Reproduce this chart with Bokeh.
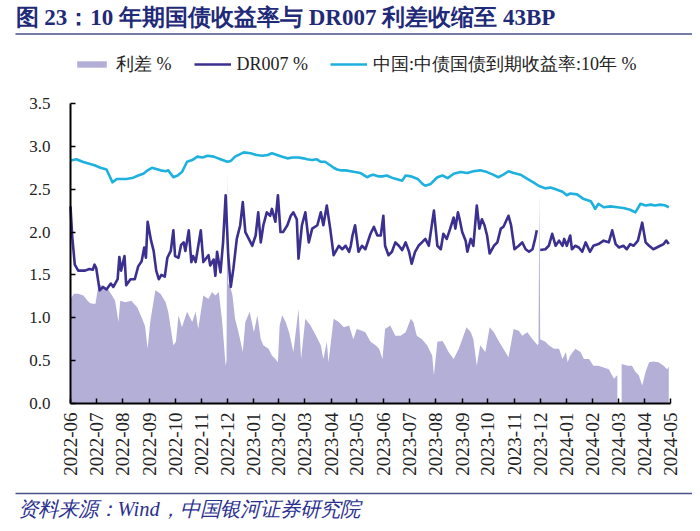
import numpy as np
import pandas as pd
from bokeh.plotting import figure
from bokeh.models import (ColumnDataSource, Range1d, FixedTicker, DatetimeTickFormatter,
                          Label, BoxAnnotation, Legend, LegendItem, PrintfTickFormatter)
from bokeh.embed import file_html
from bokeh.resources import INLINE

title_text = "图 23：10 年期国债收益率与 DR007 利差收缩至 43BP"
source_text = "资料来源：Wind，中国银河证券研究院"
series_names = ["利差 %", "DR007 %", "中国:中债国债到期收益率:10年 %"]
tick_labels = ["2022-06", "2022-07", "2022-08", "2022-09", "2022-10", "2022-11", "2022-12",
               "2023-01", "2023-02", "2023-03", "2023-04", "2023-05", "2023-06", "2023-07",
               "2023-08", "2023-09", "2023-10", "2023-11", "2023-12", "2024-01", "2024-02",
               "2024-03", "2024-04", "2024-05"]
y_ticks = [0.0, 0.5, 1.0, 1.5, 2.0, 2.5, 3.0, 3.5]

# DR007 %
dr_dates = ["2022-06-30", "2022-07-02", "2022-07-05", "2022-07-09", "2022-07-17", "2022-07-22",
            "2022-07-26", "2022-07-28", "2022-07-30", "2022-08-03", "2022-08-07", "2022-08-11",
            "2022-08-16", "2022-08-19", "2022-08-24", "2022-08-26", "2022-08-28", "2022-09-01",
            "2022-09-03", "2022-09-08", "2022-09-13", "2022-09-17", "2022-09-21", "2022-09-24",
            "2022-09-26", "2022-09-28", "2022-10-02", "2022-10-05", "2022-10-08", "2022-10-11",
            "2022-10-14", "2022-10-18", "2022-10-21", "2022-10-25", "2022-10-28", "2022-10-30",
            "2022-11-03", "2022-11-06", "2022-11-09", "2022-11-11", "2022-11-15", "2022-11-18",
            "2022-11-20", "2022-11-23", "2022-11-29", "2022-12-02", "2022-12-08", "2022-12-10",
            "2022-12-14", "2022-12-16", "2022-12-18", "2022-12-22", "2022-12-25", "2022-12-28",
            "2022-12-31", "2023-01-03", "2023-01-06", "2023-01-10", "2023-01-14", "2023-01-17",
            "2023-01-20", "2023-01-24", "2023-01-28", "2023-02-01", "2023-02-04", "2023-02-07",
            "2023-02-10", "2023-02-14", "2023-02-18", "2023-02-20", "2023-02-24", "2023-02-27",
            "2023-03-02", "2023-03-05", "2023-03-10", "2023-03-14", "2023-03-17", "2023-03-21",
            "2023-03-23", "2023-03-27", "2023-03-31", "2023-04-04", "2023-04-08", "2023-04-14",
            "2023-04-18", "2023-04-21", "2023-04-25", "2023-04-29", "2023-05-03", "2023-05-09",
            "2023-05-13", "2023-05-17", "2023-05-21", "2023-05-23", "2023-05-25", "2023-05-28",
            "2023-06-01", "2023-06-05", "2023-06-09", "2023-06-15", "2023-06-19", "2023-06-23",
            "2023-06-27", "2023-06-30", "2023-07-02", "2023-07-06", "2023-07-10", "2023-07-14",
            "2023-07-18", "2023-07-22", "2023-07-26", "2023-07-30", "2023-08-02", "2023-08-06",
            "2023-08-10", "2023-08-14", "2023-08-18", "2023-08-22", "2023-08-28", "2023-09-01",
            "2023-09-05", "2023-09-08", "2023-09-12", "2023-09-16", "2023-09-20", "2023-09-22",
            "2023-09-25", "2023-09-27", "2023-09-30", "2023-10-04", "2023-10-06", "2023-10-10",
            "2023-10-13", "2023-10-17", "2023-10-20", "2023-10-23", "2023-10-26", "2023-10-29",
            "2023-11-01", "2023-11-06", "2023-11-10", "2023-11-14", "2023-11-17", "2023-11-23",
            "2023-11-26", "2023-11-30", "2023-12-05", "2023-12-09", "2023-12-13", "2023-12-17",
            "2023-12-21", "2023-12-24", "2023-12-26", "2023-12-29", "2023-12-30", "2024-01-05",
            "2024-01-09", "2024-01-13", "2024-01-17", "2024-01-21", "2024-01-25", "2024-01-27",
            "2024-01-30", "2024-02-03", "2024-02-05", "2024-02-09", "2024-02-13", "2024-02-17",
            "2024-02-21", "2024-02-26", "2024-03-01", "2024-03-07", "2024-03-13", "2024-03-19",
            "2024-03-23", "2024-03-27", "2024-03-31", "2024-04-05", "2024-04-09", "2024-04-13",
            "2024-04-17", "2024-04-22", "2024-04-27", "2024-05-01", "2024-05-05", "2024-05-10",
            "2024-05-14", "2024-05-18", "2024-05-22", "2024-05-25", "2024-05-28"]
dr_vals = [2.30, 1.95, 1.62, 1.55, 1.55, 1.57,
           1.56, 1.62, 1.58, 1.32, 1.36, 1.33,
           1.40, 1.36, 1.45, 1.71, 1.55, 1.72,
           1.38, 1.45, 1.45, 1.60, 1.66, 1.82,
           1.70, 2.12, 1.90, 1.78, 1.55, 1.45,
           1.50, 1.48, 1.70, 1.78, 2.02, 1.72,
           1.70, 1.85, 1.88, 1.78, 2.02, 1.65,
           1.72, 1.65, 2.02, 1.65, 1.73, 1.61,
           1.68, 1.49, 1.77, 1.53, 1.88, 2.43,
           1.73, 1.36, 1.57, 1.92, 2.08, 2.35,
           2.00, 1.92, 1.84, 1.96, 2.23, 1.88,
           2.08, 2.23, 2.19, 2.27, 2.12, 2.43,
           2.00, 2.00, 2.08, 2.19, 2.23, 2.15,
           1.69, 2.08, 2.23, 1.88, 2.04, 2.08,
           2.23, 2.08, 2.31, 2.04, 1.73, 1.84,
           1.80, 1.84, 1.77, 1.84, 1.96, 2.08,
           1.77, 1.84, 1.80, 1.98, 2.06, 1.96,
           1.96, 2.19, 1.84, 1.73, 1.77, 1.88,
           1.84, 1.79, 1.88, 1.77, 1.63, 1.77,
           1.84, 1.88, 1.92, 1.84, 2.25, 1.84,
           1.80, 1.98, 1.92, 2.04, 2.17, 2.04,
           2.23, 2.15, 2.00, 1.90, 1.77, 1.92,
           1.84, 2.31, 2.04, 2.15, 2.08, 1.96,
           1.75, 1.84, 1.88, 2.04, 2.06, 2.19,
           2.08, 1.80, 1.84, 1.88, 1.80, 1.77,
           1.80, 1.92, 2.02, np.nan, 1.79, 1.80,
           1.84, 1.98, 1.84, 1.90, 1.84, 1.92,
           1.84, 1.96, 1.80, 1.84, 1.82, 1.77,
           1.88, 1.77, 1.84, 1.86, 1.90, 1.88,
           2.02, 1.86, 1.82, 1.84, 1.80, 1.86,
           1.84, 1.90, 2.11, 1.88, 1.84, 1.80,
           1.82, 1.84, 1.86, 1.90, 1.86]

# 中国:中债国债到期收益率:10年 %
cgb_dates = ["2022-06-30", "2022-07-07", "2022-07-14", "2022-07-21", "2022-07-28", "2022-08-04",
             "2022-08-11", "2022-08-18", "2022-08-23", "2022-08-27", "2022-09-03", "2022-09-10",
             "2022-09-17", "2022-09-23", "2022-09-28", "2022-10-03", "2022-10-07", "2022-10-13",
             "2022-10-19", "2022-10-22", "2022-10-28", "2022-11-02", "2022-11-07", "2022-11-13",
             "2022-11-19", "2022-11-25", "2022-12-01", "2022-12-07", "2022-12-14", "2022-12-22",
             "2022-12-30", "2023-01-03", "2023-01-08", "2023-01-14", "2023-01-18", "2023-01-26",
             "2023-02-02", "2023-02-09", "2023-02-15", "2023-02-20", "2023-02-26", "2023-03-04",
             "2023-03-10", "2023-03-16", "2023-03-23", "2023-03-29", "2023-04-02", "2023-04-08",
             "2023-04-13", "2023-04-18", "2023-04-23", "2023-04-29", "2023-05-03", "2023-05-07",
             "2023-05-11", "2023-05-17", "2023-05-23", "2023-05-28", "2023-06-03", "2023-06-11",
             "2023-06-15", "2023-06-18", "2023-06-24", "2023-06-29", "2023-07-04", "2023-07-11",
             "2023-07-15", "2023-07-22", "2023-07-26", "2023-08-01", "2023-08-04", "2023-08-09",
             "2023-08-15", "2023-08-18", "2023-08-24", "2023-08-27", "2023-09-01", "2023-09-07",
             "2023-09-13", "2023-09-20", "2023-09-28", "2023-10-06", "2023-10-13", "2023-10-21",
             "2023-10-29", "2023-11-05", "2023-11-11", "2023-11-17", "2023-11-23", "2023-11-29",
             "2023-12-07", "2023-12-15", "2023-12-22", "2023-12-28", "2024-01-05", "2024-01-11",
             "2024-01-17", "2024-01-25", "2024-01-30", "2024-02-03", "2024-02-11", "2024-02-18",
             "2024-02-27", "2024-03-01", "2024-03-03", "2024-03-07", "2024-03-13", "2024-03-21",
             "2024-03-29", "2024-04-05", "2024-04-13", "2024-04-19", "2024-04-25", "2024-05-01",
             "2024-05-07", "2024-05-12", "2024-05-18", "2024-05-24", "2024-05-28"]
cgb_vals = [2.835, 2.85, 2.82, 2.80, 2.78, 2.75,
            2.73, 2.58, 2.62, 2.62, 2.62, 2.63,
            2.66, 2.68, 2.72, 2.75, 2.74, 2.72,
            2.71, 2.72, 2.64, 2.66, 2.70, 2.82,
            2.84, 2.88, 2.87, 2.89, 2.88, 2.85,
            2.82, 2.83, 2.88, 2.91, 2.93, 2.92,
            2.90, 2.89, 2.90, 2.92, 2.90, 2.88,
            2.86, 2.87, 2.87, 2.86, 2.85, 2.84,
            2.85, 2.82, 2.82, 2.78, 2.75, 2.73,
            2.72, 2.72, 2.71, 2.70, 2.69, 2.64,
            2.66, 2.67, 2.65, 2.65, 2.66, 2.63,
            2.62, 2.60, 2.66, 2.65, 2.64, 2.62,
            2.56, 2.54, 2.56, 2.59, 2.64, 2.66,
            2.63, 2.68, 2.70, 2.69, 2.71, 2.72,
            2.70, 2.67, 2.64, 2.67, 2.71, 2.69,
            2.67, 2.62, 2.58, 2.54, 2.51, 2.52,
            2.50, 2.47, 2.43, 2.45, 2.44, 2.39,
            2.36, 2.31, 2.27, 2.33, 2.29, 2.30,
            2.29, 2.28, 2.26, 2.23, 2.33, 2.31,
            2.32, 2.31, 2.32, 2.31, 2.29]

# 利差 %
spread_dates = ["2022-06-30", "2022-07-04", "2022-07-09", "2022-07-15", "2022-07-20", "2022-07-23",
                "2022-07-29", "2022-08-02", "2022-08-07", "2022-08-13", "2022-08-18", "2022-08-21",
                "2022-08-25", "2022-08-27", "2022-09-02", "2022-09-09", "2022-09-16", "2022-09-22",
                "2022-09-25", "2022-09-28", "2022-10-01", "2022-10-07", "2022-10-13", "2022-10-19",
                "2022-10-22", "2022-10-28", "2022-10-31", "2022-11-03", "2022-11-07", "2022-11-13",
                "2022-11-19", "2022-11-23", "2022-11-26", "2022-12-02", "2022-12-08", "2022-12-12",
                "2022-12-16", "2022-12-20", "2022-12-24", "2022-12-28", "2022-12-29", "2022-12-30",
                "2022-12-31", "2023-01-03", "2023-01-05", "2023-01-08", "2023-01-12", "2023-01-17",
                "2023-01-20", "2023-01-25", "2023-01-30", "2023-02-03", "2023-02-07", "2023-02-10",
                "2023-02-16", "2023-02-20", "2023-02-24", "2023-02-27", "2023-03-01", "2023-03-04",
                "2023-03-08", "2023-03-12", "2023-03-17", "2023-03-23", "2023-03-26", "2023-03-31",
                "2023-04-06", "2023-04-12", "2023-04-18", "2023-04-21", "2023-04-25", "2023-04-27",
                "2023-05-03", "2023-05-09", "2023-05-15", "2023-05-21", "2023-05-26", "2023-05-30",
                "2023-06-05", "2023-06-09", "2023-06-15", "2023-06-21", "2023-06-25", "2023-06-29",
                "2023-07-02", "2023-07-08", "2023-07-14", "2023-07-20", "2023-07-26", "2023-08-01",
                "2023-08-04", "2023-08-08", "2023-08-14", "2023-08-20", "2023-08-26", "2023-08-28",
                "2023-09-01", "2023-09-07", "2023-09-10", "2023-09-14", "2023-09-20", "2023-09-26",
                "2023-09-30", "2023-10-05", "2023-10-10", "2023-10-13", "2023-10-17", "2023-10-21",
                "2023-10-27", "2023-11-01", "2023-11-06", "2023-11-12", "2023-11-17", "2023-11-23",
                "2023-11-29", "2023-12-05", "2023-12-09", "2023-12-15", "2023-12-21", "2023-12-27",
                "2023-12-28", "2023-12-29", "2023-12-30", "2024-01-05", "2024-01-09", "2024-01-15",
                "2024-01-21", "2024-01-25", "2024-01-29", "2024-01-31", "2024-02-03", "2024-02-09",
                "2024-02-15", "2024-02-19", "2024-02-25", "2024-03-01", "2024-03-07", "2024-03-13",
                "2024-03-19", "2024-03-25", "2024-03-29", "2024-03-31", "2024-04-03", "2024-04-10",
                "2024-04-15", "2024-04-19", "2024-04-23", "2024-04-27", "2024-05-01", "2024-05-05",
                "2024-05-10", "2024-05-16", "2024-05-22", "2024-05-26", "2024-05-28"]
spread_vals = [1.22, 1.28, 1.28, 1.26, 1.20, 1.17,
               1.16, 1.40, 1.36, 1.33, 1.25, 1.20,
               0.95, 1.20, 1.18, 1.20, 1.12, 0.98,
               0.90, 0.64, 0.95, 1.32, 1.28, 1.18,
               1.07, 0.68, 0.72, 1.03, 0.89, 1.07,
               0.95, 1.07, 0.87, 1.26, 1.22, 1.30,
               1.26, 1.30, 0.95, 0.44, 0.50, 2.70,
               1.40, 1.34, 1.26, 0.99, 0.83, 0.60,
               0.95, 1.07, 0.83, 1.03, 0.75, 0.68,
               0.64, 0.56, 0.52, 0.48, 0.91, 1.03,
               0.95, 0.83, 0.60, 1.10, 0.52, 0.99,
               0.91, 0.80, 0.68, 0.52, 0.72, 0.48,
               0.99, 0.95, 0.89, 0.91, 0.75, 0.87,
               0.85, 0.83, 0.72, 0.68, 0.64, 0.52,
               0.87, 0.91, 0.79, 0.79, 0.83, 0.99,
               0.95, 0.79, 0.75, 0.68, 0.56, 0.33,
               0.72, 0.73, 0.68, 0.60, 0.52, 0.64,
               0.75, 0.89, 0.83, 0.75, 0.44, 0.68,
               0.60, 0.89, 0.83, 0.72, 0.64, 0.54,
               0.87, 0.85, 0.79, 0.83, 0.75, 0.68,
               0.70, 2.47, 0.75, 0.72, 0.68, 0.64,
               0.64, 0.52, 0.60, 0.48, 0.56, 0.64,
               0.60, 0.52, 0.52, 0.44, 0.44, 0.42,
               0.40, 0.29, 0.33, np.nan, 0.46, 0.44,
               0.44, 0.37, 0.33, 0.21, 0.37, 0.48,
               0.49, 0.48, 0.44, 0.40, 0.43]

SPREAD_COLOR = "#b3afd7"
DR_COLOR = "#3b2f8f"
CGB_COLOR = "#1fb1de"
NAVY = "#1f2a78"
RULE = "#4a4f8c"
SERIF = "Liberation Serif"

# canvas and plot-area geometry (px)
W, H = 692, 523
AREA_L, AREA_R, AREA_T, AREA_B = 70, 670, 103, 403
Y_MIN, Y_MAX = 0.0, 3.5


def ms(ts):
    return pd.Timestamp(ts).value / 1e6


tick_dates = []
for lab in tick_labels:
    per = pd.Period(lab, freq="M")
    day = min(30, per.days_in_month)
    tick_dates.append(pd.Timestamp(f"{lab}-{day:02d}"))
tick_ms = [ms(t) for t in tick_dates]

# ranges extended so that the plotting area sits at AREA_* inside a full-canvas frame
x_per_px = (tick_ms[-1] - tick_ms[0]) / (AREA_R - AREA_L)
y_per_px = (Y_MAX - Y_MIN) / (AREA_B - AREA_T)
x_range = Range1d(tick_ms[0] - AREA_L * x_per_px, tick_ms[-1] + (W - AREA_R) * x_per_px)
y_range = Range1d(Y_MIN - (H - AREA_B) * y_per_px, Y_MAX + AREA_T * y_per_px)

p = figure(width=W, height=H, x_axis_type="datetime", output_backend="svg",
           toolbar_location=None, x_range=x_range, y_range=y_range,
           min_border=0)
p.min_border_left = p.min_border_right = p.min_border_top = p.min_border_bottom = 0
p.outline_line_color = None
p.xgrid.visible = False
p.ygrid.visible = False
p.background_fill_color = "white"
p.border_fill_color = "white"

sx = pd.to_datetime(spread_dates)
sv = np.array(spread_vals, dtype=float)
area_renderers = []
seg_x, seg_y = [], []
for d, v in list(zip(sx, sv)) + [(None, np.nan)]:
    if np.isnan(v):
        if seg_x:
            src = ColumnDataSource(dict(x=seg_x, y=seg_y))
            area_renderers.append(p.varea(x="x", y1=0, y2="y", source=src,
                                          fill_color=SPREAD_COLOR, fill_alpha=1.0))
        seg_x, seg_y = [], []
    else:
        seg_x.append(d)
        seg_y.append(v)

dr_src = ColumnDataSource(dict(x=pd.to_datetime(dr_dates), y=np.array(dr_vals, dtype=float)))
r_dr = p.line("x", "y", source=dr_src, line_color=DR_COLOR, line_width=2.6, line_join="round")
cgb_src = ColumnDataSource(dict(x=pd.to_datetime(cgb_dates), y=np.array(cgb_vals, dtype=float)))
r_cgb = p.line("x", "y", source=cgb_src, line_color=CGB_COLOR, line_width=2.6, line_join="round")

# axes pinned to the plotting area
for ax in (p.xaxis[0], p.yaxis[0]):
    ax.axis_line_color = "black"
    ax.axis_line_width = 2
    ax.major_tick_line_color = "black"
    ax.major_tick_line_width = 1.5
    ax.major_tick_out = 0
    ax.major_tick_in = 5
    ax.minor_tick_line_color = None
    ax.major_label_text_font = SERIF
    ax.major_label_text_color = "#222222"

p.yaxis.fixed_location = tick_ms[0]
p.yaxis.bounds = (Y_MIN, Y_MAX)
p.yaxis.ticker = FixedTicker(ticks=y_ticks)
p.yaxis.formatter = PrintfTickFormatter(format="%.1f")
p.yaxis.major_label_text_font_size = "17px"
p.yaxis.major_label_standoff = 20

p.xaxis.fixed_location = Y_MIN
p.xaxis.bounds = (tick_ms[0], tick_ms[-1])
p.xaxis.ticker = FixedTicker(ticks=tick_ms)
p.xaxis.formatter = DatetimeTickFormatter(days="%Y-%m", months="%Y-%m", years="%Y-%m",
                                          hours="%Y-%m", hourmin="%Y-%m")
p.xaxis.major_label_orientation = np.pi / 2
p.xaxis.major_label_text_font_size = "19px"
p.xaxis.major_label_standoff = 9

# legend
legend = Legend(items=[LegendItem(label=series_names[0], renderers=[area_renderers[0]]),
                       LegendItem(label=series_names[1], renderers=[r_dr]),
                       LegendItem(label=series_names[2], renderers=[r_cgb])],
                location=(73, H - 66 - 10), orientation="horizontal",
                glyph_width=37, glyph_height=8, label_standoff=6, spacing=22,
                padding=0, margin=0, border_line_color=None, background_fill_alpha=0,
                label_text_font=SERIF, label_text_font_size="18px",
                label_text_color="#222222", label_height=20)
p.add_layout(legend)

# title, rules and source note (screen px from the bottom-left corner)
p.add_layout(Label(x=15, y=H - 17, x_units="screen", y_units="screen", text=title_text,
                   text_font=SERIF, text_font_style="bold", text_font_size="23px",
                   text_color=NAVY, text_baseline="middle", text_align="left"))
p.add_layout(BoxAnnotation(left=15, right=W, bottom=H - 34.2, top=H - 32.8,
                           left_units="screen", right_units="screen",
                           top_units="screen", bottom_units="screen",
                           fill_color=RULE, fill_alpha=1, line_color=None))
p.add_layout(BoxAnnotation(left=15, right=W, bottom=H - 493.7, top=H - 492.3,
                           left_units="screen", right_units="screen",
                           top_units="screen", bottom_units="screen",
                           fill_color=RULE, fill_alpha=1, line_color=None))
p.add_layout(Label(x=17, y=H - 508, x_units="screen", y_units="screen", text=source_text,
                   text_font=SERIF, text_font_style="italic", text_font_size="20.5px",
                   text_color="#2b3190", text_baseline="middle", text_align="left"))

open("out.html", "w").write(file_html(p, INLINE))
